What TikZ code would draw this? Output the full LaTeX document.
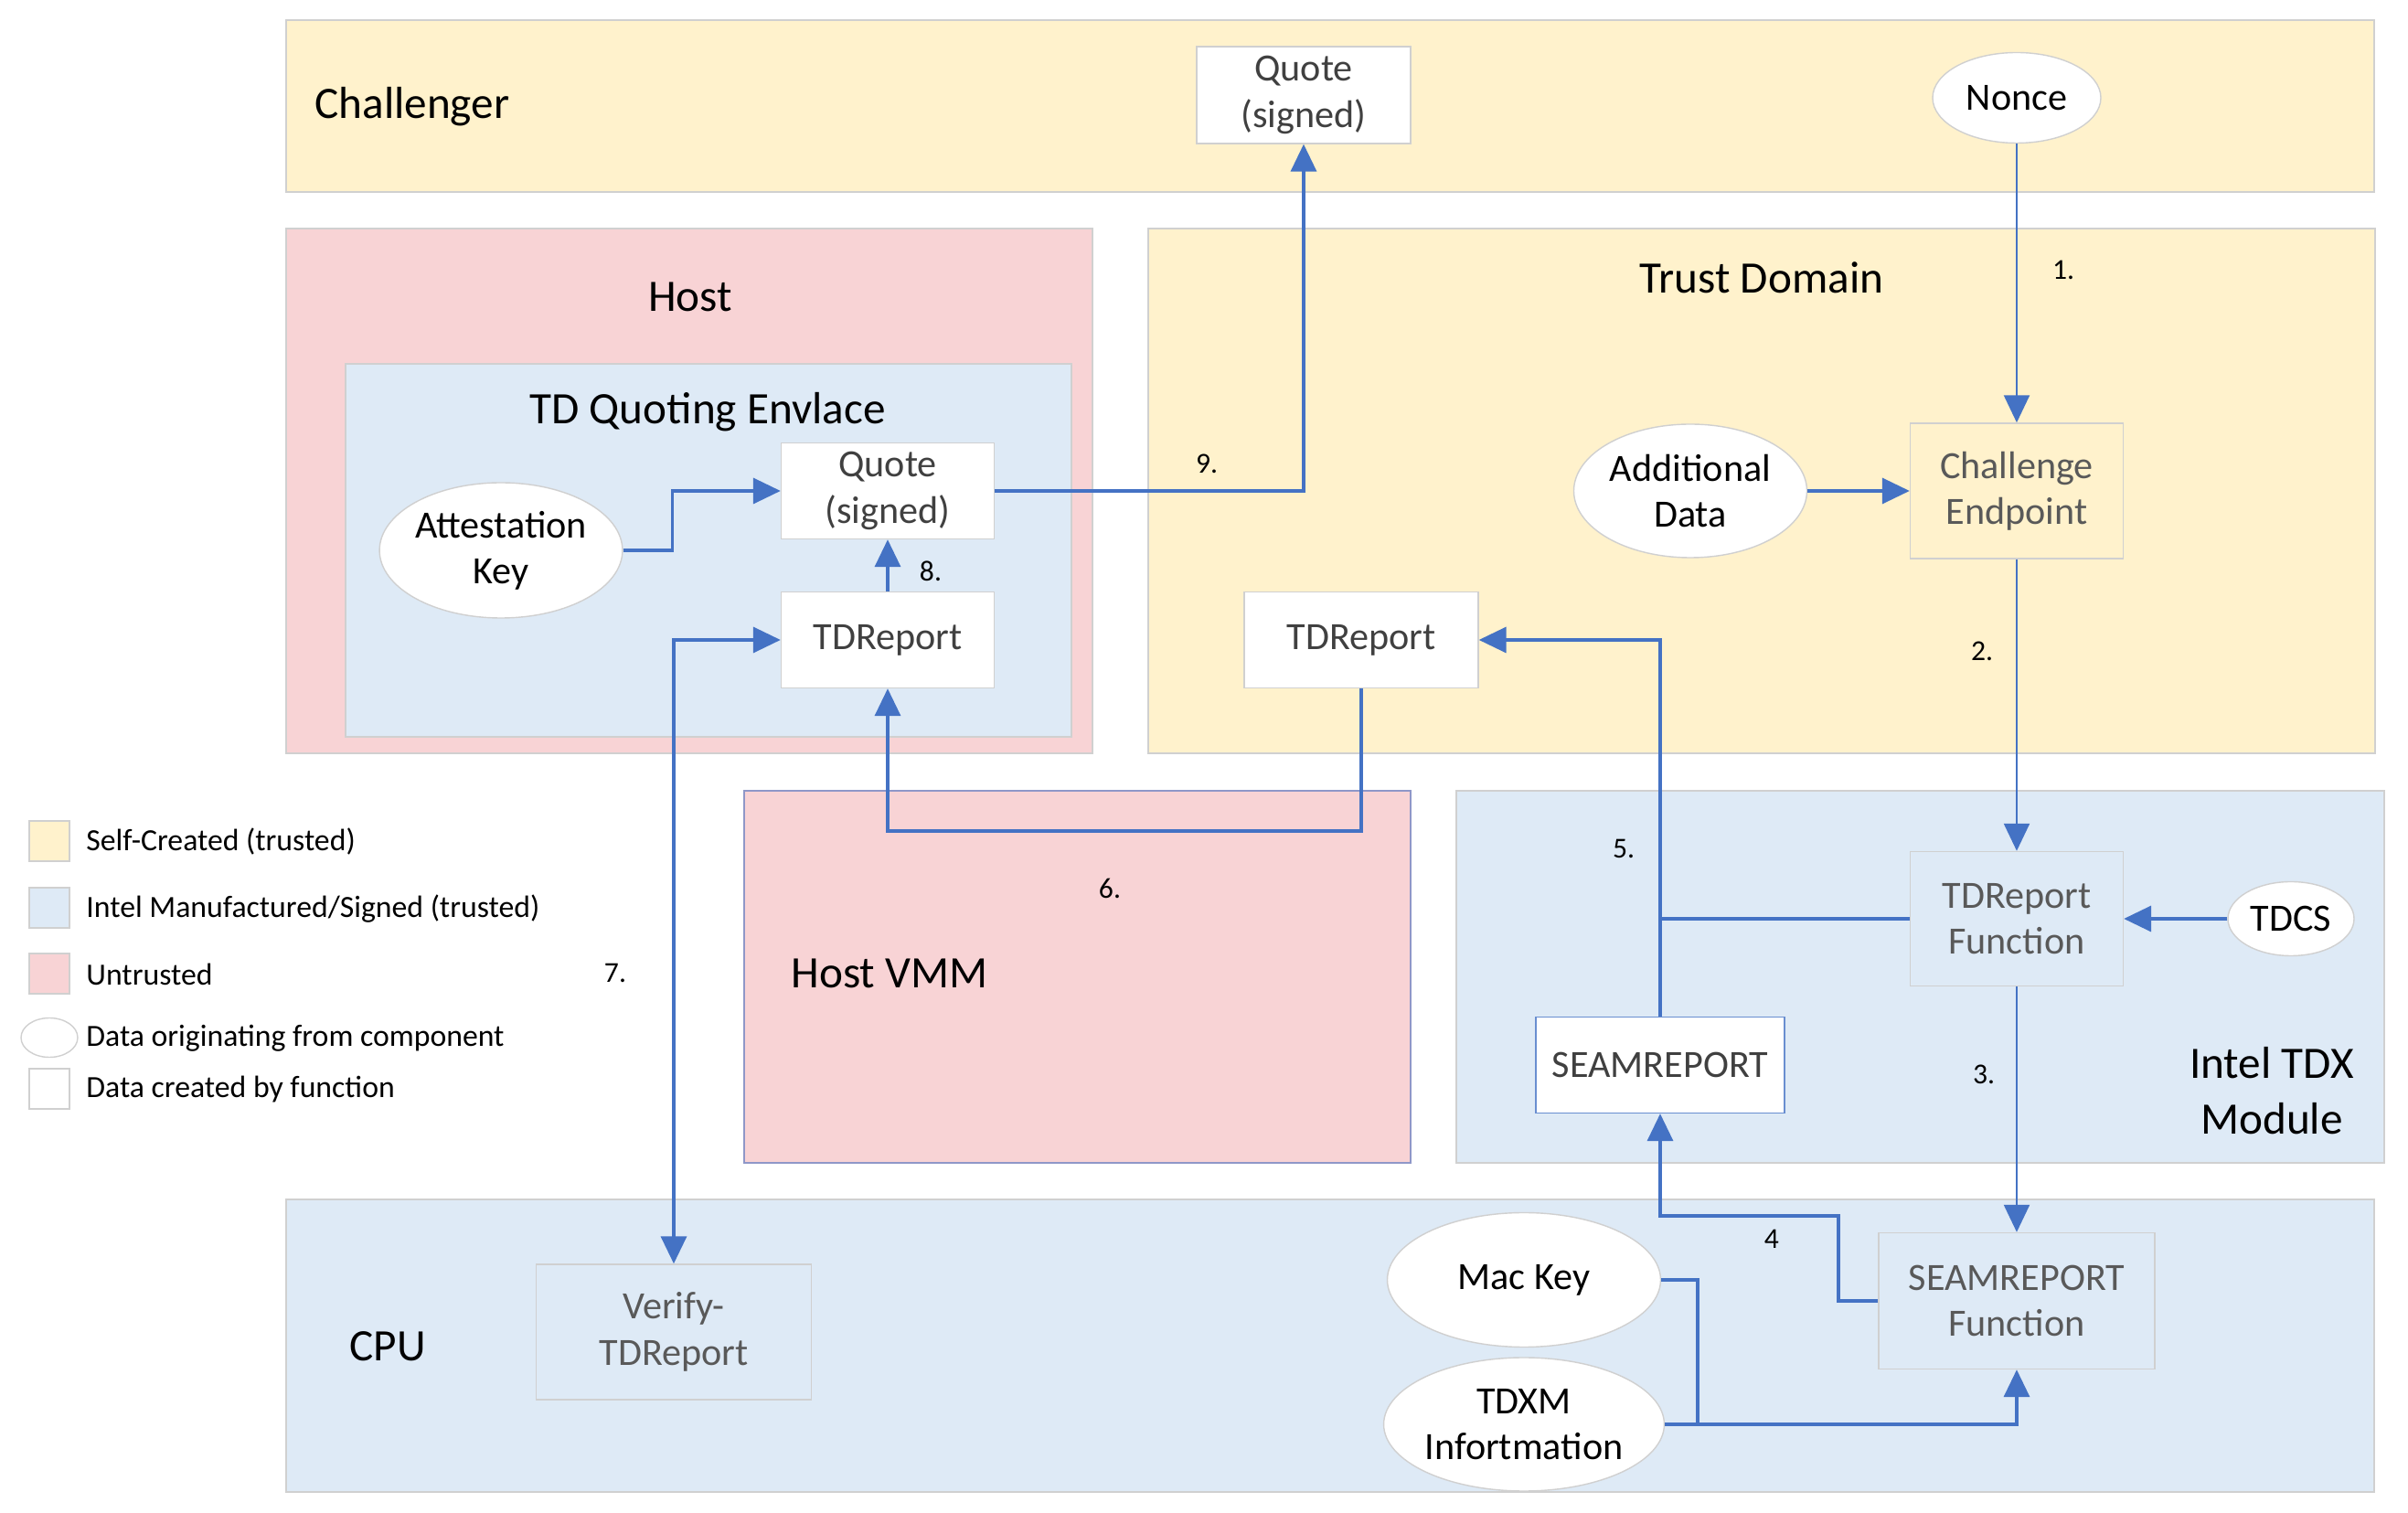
\documentclass[tikz,border=0pt]{standalone}
\usepackage{fontspec}
\setmainfont{Carlito}
\usetikzlibrary{arrows.meta,shapes.geometric}

\definecolor{selfyellow}{HTML}{FFF2CC}
\definecolor{intelblue}{HTML}{DEEAF6}
\definecolor{untrustpink}{HTML}{F8D3D5}
\definecolor{flowblue}{HTML}{4472C4}
\definecolor{edgegrey}{HTML}{D0D0D0}
\definecolor{vmmedge}{HTML}{8F97C8}
\definecolor{labelgrey}{HTML}{404040}

\newcommand\regionfont{\fontsize{14}{17.3}\selectfont}
\newcommand\boxfont{\fontsize{12}{14.3}\selectfont}
\newcommand\legendfont{\fontsize{9.6}{11}\selectfont}
\newcommand\stepfont{\fontsize{9}{11}\selectfont}

\tikzset{
  region/.style={draw=edgegrey, line width=0.5pt},
  datbox/.style={draw=edgegrey, fill=white, text=labelgrey, align=center,
    inner sep=0pt, font=\boxfont},
  funcbox/.style={datbox, fill=intelblue},
  datoval/.style={ellipse, draw=edgegrey, fill=white, text=black, align=center,
    inner sep=0pt, font=\boxfont},
  flow/.style={draw=flowblue, line width=1pt,
    -{Triangle[length=0.3cm,width=0.28cm]}},
  thinflow/.style={flow, line width=0.7pt},
  steplabel/.style={font=\stepfont, text=black},
  legendkey/.style={draw=edgegrey, minimum size=0.44cm, inner sep=0pt},
  legendtext/.style={anchor=west, font=\legendfont, text=black}
}

\begin{document}
\begin{tikzpicture}[y=-1cm]
  \useasboundingbox (0,0) rectangle (26.34,16.55);
  % regions
  \filldraw[region, fill=selfyellow] (3.13,0.22) rectangle (25.97,2.10);
  \filldraw[region, fill=untrustpink] (3.13,2.50) rectangle (11.95,8.24);
  \filldraw[region, fill=intelblue] (3.78,3.98) rectangle (11.72,8.06);
  \filldraw[region, fill=selfyellow] (12.56,2.50) rectangle (25.98,8.24);
  \filldraw[draw=vmmedge, line width=0.6pt, fill=untrustpink] (8.14,8.65) rectangle (15.43,12.72);
  \filldraw[region, fill=intelblue] (15.93,8.65) rectangle (26.08,12.72);
  \filldraw[region, fill=intelblue] (3.13,13.12) rectangle (25.97,16.32);

  \node[anchor=west, font=\regionfont] (challenger) at (3.32,1.17) {Challenger};
  \node[font=\regionfont] (host) at (7.55,3.25) {Host};
  \node[font=\regionfont] (qe) at (7.74,4.51) {TD Quoting Envlace};
  \node[font=\regionfont] (td) at (19.27,3.04) {Trust Domain};
  \node[anchor=west, font=\regionfont] (vmm) at (8.53,10.65) {Host VMM};
  \node[font=\regionfont, align=center] (tdx) at (24.85,11.93) {Intel TDX\\Module};
  \node[font=\regionfont] (cpu) at (4.24,14.73) {CPU};

  % data and functions
  \node[datbox, minimum width=2.34cm, minimum height=1.06cm] (qchal) at (14.26,1.04) {Quote\\(signed)};
  \node[datoval, minimum width=1.84cm, minimum height=0.99cm] (nonce) at (22.06,1.07) {Nonce};
  \node[datbox, fill=selfyellow, text=black!65, minimum width=2.33cm, minimum height=1.48cm] (challenge) at (22.06,5.37) {Challenge\\Endpoint};
  \node[datoval, minimum width=2.55cm, minimum height=1.46cm] (adddata) at (18.49,5.37) {Additional\\Data};
  \node[datbox, minimum width=2.56cm, minimum height=1.05cm] (tdrtd) at (14.89,7.00) {TDReport};
  \node[datbox, minimum width=2.33cm, minimum height=1.05cm] (qhost) at (9.71,5.37) {Quote\\(signed)};
  \node[datoval, minimum width=2.54cm, minimum height=1.48cm] (attkey) at (5.48,6.02) {Attestation\\Key};
  \node[datbox, minimum width=2.33cm, minimum height=1.05cm] (tdrhost) at (9.71,7.00) {TDReport};
  \node[funcbox, text=black!65, minimum width=2.33cm, minimum height=1.47cm] (tdrfunc) at (22.06,10.05) {TDReport\\Function};
  \node[datoval, minimum width=1.38cm, minimum height=0.81cm] (tdcs) at (25.06,10.05) {TDCS};
  \node[datbox, draw=flowblue!80, minimum width=2.72cm, minimum height=1.05cm] (seamrep) at (18.16,11.65) {SEAMREPORT};
  \node[funcbox, text=black!65, minimum width=3.02cm, minimum height=1.49cm] (seamfunc) at (22.06,14.23) {SEAMREPORT\\Function};
  \node[datoval, minimum width=2.99cm, minimum height=1.47cm] (mackey) at (16.67,14.00) {Mac Key};
  \node[datoval, minimum width=2.99cm, minimum height=1.46cm] (tdxm) at (16.67,15.58) {TDXM\\Infortmation};
  \node[funcbox, text=black!65, minimum width=3.01cm, minimum height=1.48cm] (verify) at (7.37,14.57) {Verify-\\TDReport};

  % flows
  \draw[thinflow] (nonce.south) -- (challenge.north);
  \draw[flow] (adddata.east) -- (challenge.west);
  \draw[thinflow] (challenge.south) -- (tdrfunc.north);
  \draw[flow] (tdcs.west) -- (tdrfunc.east);
  \draw[thinflow] (tdrfunc.south) -- (seamfunc.north);
  \coordinate (bend4) at (20.11,13.30);
  \draw[flow] (seamfunc.west) -| (bend4) -| (seamrep.south);
  \coordinate (join) at (18.57,15.58);
  \draw[flow] (tdxm.east) -| (seamfunc.south);
  \draw[flow, -] (mackey.east) -| (join);
  \draw[flow, -] (tdrfunc.west) -- (seamrep.north |- tdrfunc.west);
  \draw[flow] (seamrep.north) |- (tdrtd.east);
  \coordinate (bend6) at (14.89,9.09);
  \draw[flow] (tdrtd.south) -- (bend6) -| (tdrhost.south);
  \draw[flow, {Triangle[length=0.3cm,width=0.28cm]}-{Triangle[length=0.3cm,width=0.28cm]}] (verify.north) |- (tdrhost.west);
  \draw[flow] (tdrhost.north) -- (qhost.south);
  \draw[flow] (attkey.east) -- ++(0.54,0) |- (qhost.west);
  \draw[flow] (qhost.east) -| (qchal.south);

  \node[steplabel] (s1) at (22.57,2.95) {1.};
  \node[steplabel] (s2) at (21.68,7.12) {2.};
  \node[steplabel] (s3) at (21.70,11.75) {3.};
  \node[steplabel] (s4) at (19.38,13.55) {4};
  \node[steplabel] (s5) at (17.76,9.28) {5.};
  \node[steplabel] (s6) at (12.14,9.72) {6.};
  \node[steplabel] (s7) at (6.73,10.64) {7.};
  \node[steplabel] (s8) at (10.18,6.25) {8.};
  \node[steplabel] (s9) at (13.20,5.07) {9.};

  % legend
  \node[legendkey, fill=selfyellow] (keyself) at (0.54,9.20) {};
  \node[legendtext] at (0.82,9.21) {Self-Created (trusted)};
  \node[legendkey, fill=intelblue] (keyintel) at (0.54,9.93) {};
  \node[legendtext] at (0.82,9.94) {Intel Manufactured/Signed (trusted)};
  \node[legendkey, fill=untrustpink] (keyuntrust) at (0.54,10.65) {};
  \node[legendtext] at (0.82,10.66) {Untrusted};
  \node[ellipse, draw=edgegrey, fill=white, minimum width=0.62cm, minimum height=0.43cm, inner sep=0pt] (keyoval) at (0.54,11.35) {};
  \node[legendtext] at (0.82,11.36) {Data originating from component};
  \node[legendkey, fill=white] (keybox) at (0.54,11.91) {};
  \node[legendtext] at (0.82,11.92) {Data created by function};
\end{tikzpicture}
\end{document}
